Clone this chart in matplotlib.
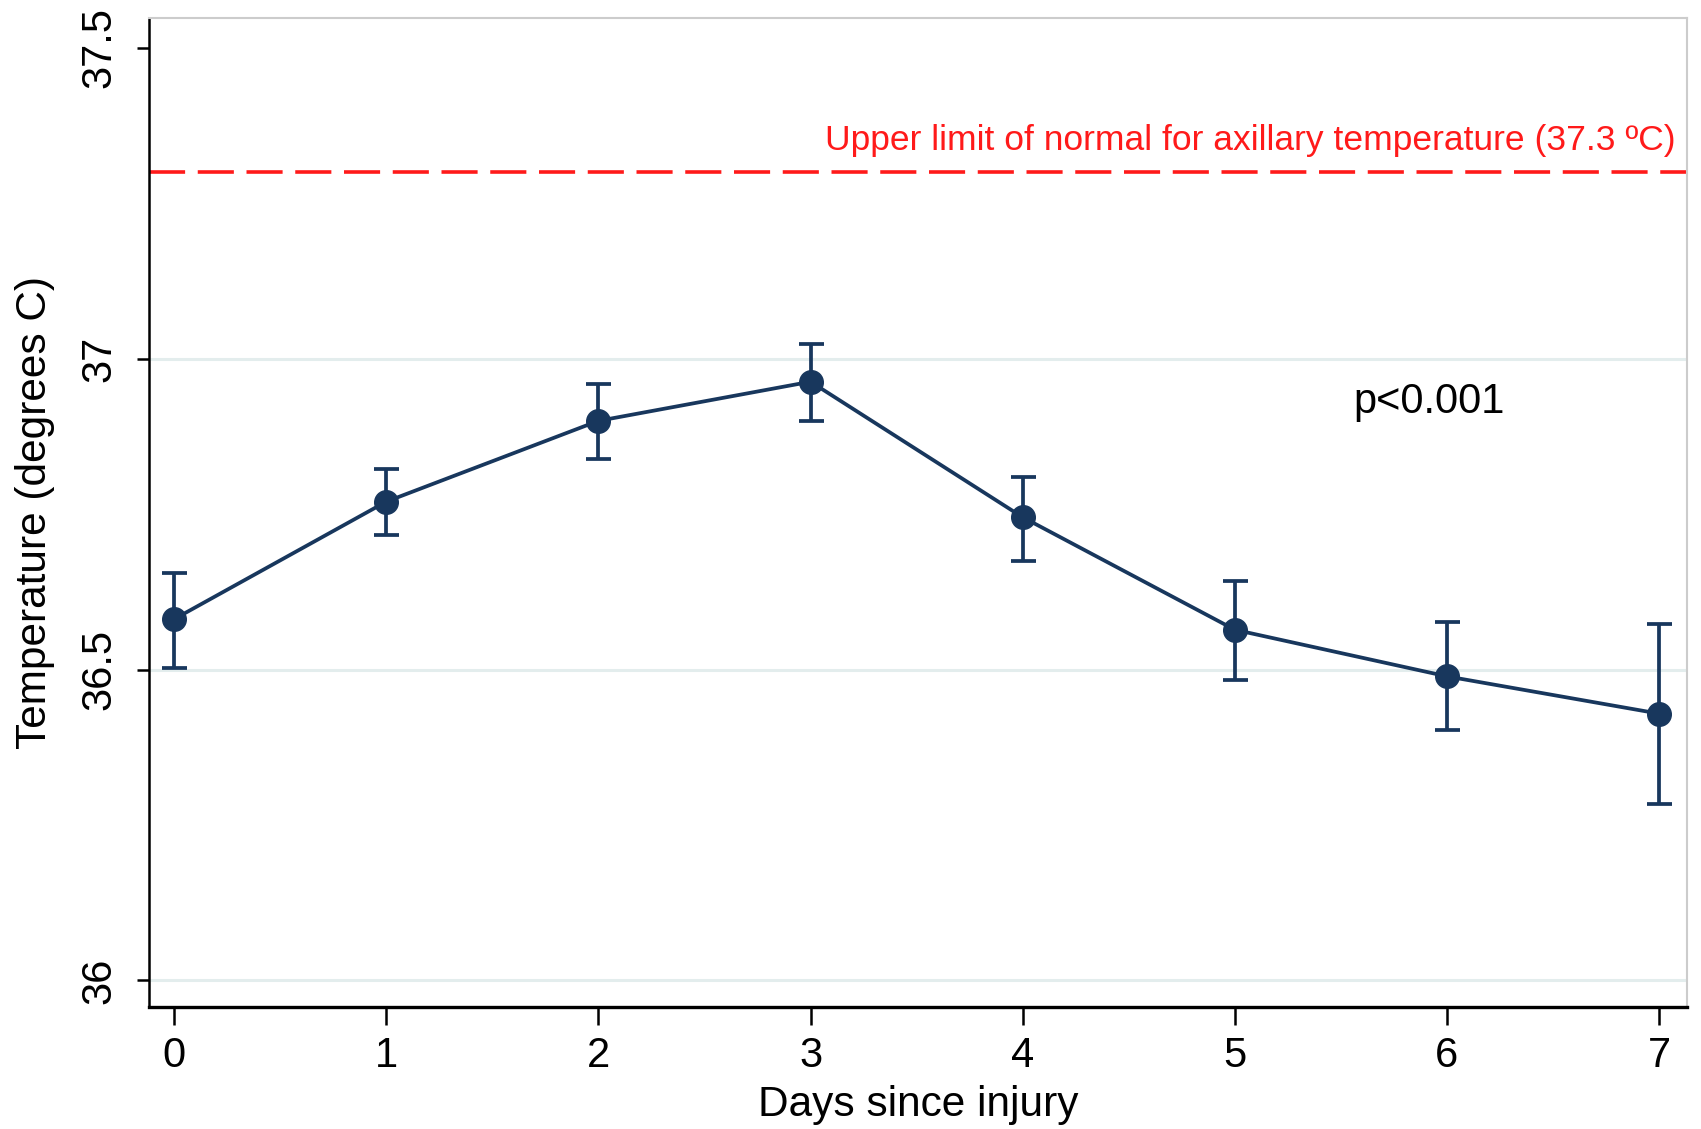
import numpy as np
import matplotlib
matplotlib.use("Agg")
from matplotlib import pyplot as plt

# Data
days = [0, 1, 2, 3, 4, 5, 6, 7]
mean_temp = [36.581, 36.770, 36.900, 36.963, 36.745, 36.564, 36.489, 36.429]
ci_low = [36.503, 36.716, 36.839, 36.900, 36.675, 36.483, 36.403, 36.284]
ci_high = [36.656, 36.822, 36.960, 37.024, 36.810, 36.642, 36.576, 36.574]
upper_limit = 37.3
y_ticks = [36, 36.5, 37, 37.5]
y_tick_labels = ['36', '36.5', '37', '37.5']

navy = '#18375d'
plt.rcParams['font.family'] = ['Liberation Sans', 'DejaVu Sans']

fig = plt.figure(figsize=(17.01, 11.29), dpi=100)
ax = fig.add_axes([0.0876, 0.108, 0.904, 0.876])

mean_arr = np.array(mean_temp)
yerr = [mean_arr - np.array(ci_low), np.array(ci_high) - mean_arr]
ax.errorbar(days, mean_temp, yerr=yerr, fmt='-o', color=navy, ecolor=navy,
            lw=2.7, elinewidth=2.7, capsize=9, capthick=2.7, markersize=17,
            zorder=3)

# Reference line
ax.axhline(upper_limit, color='#ff1a1a', lw=2.6, dashes=(10, 3.5), zorder=2)
ax.text(7.08, upper_limit + 0.025,
        'Upper limit of normal for axillary temperature (37.3 \u00baC)',
        color='#ff1a1a', fontsize=25.5, ha='right', va='bottom')

ax.text(5.56, 36.93, 'p<0.001', fontsize=30, ha='left', va='center')

ax.set_xlim(-0.118, 7.13)
ax.set_ylim(35.957, 37.548)
ax.set_xticks(days)
ax.set_xticklabels([str(d) for d in days])
ax.set_yticks(y_ticks)
ax.set_yticklabels(y_tick_labels, rotation=90, va='center')

for y in [36, 36.5, 37]:
    ax.axhline(y, color='#e3eded', lw=2.2, zorder=1)

ax.tick_params(axis='x', length=13, width=1.8, labelsize=30, pad=8)
ax.tick_params(axis='y', length=9, width=1.8, labelsize=30, pad=12)

ax.set_xlabel('Days since injury', fontsize=30.5, labelpad=6)
ax.set_ylabel('Temperature (degrees C)', fontsize=30.5, labelpad=18)

ax.spines['left'].set_linewidth(1.8)
ax.spines['bottom'].set_linewidth(2.4)
ax.spines['top'].set_color('#cccccc')
ax.spines['right'].set_color('#cccccc')
ax.spines['top'].set_linewidth(1.5)
ax.spines['right'].set_linewidth(1.5)

plt.savefig('out.png', dpi=100)
